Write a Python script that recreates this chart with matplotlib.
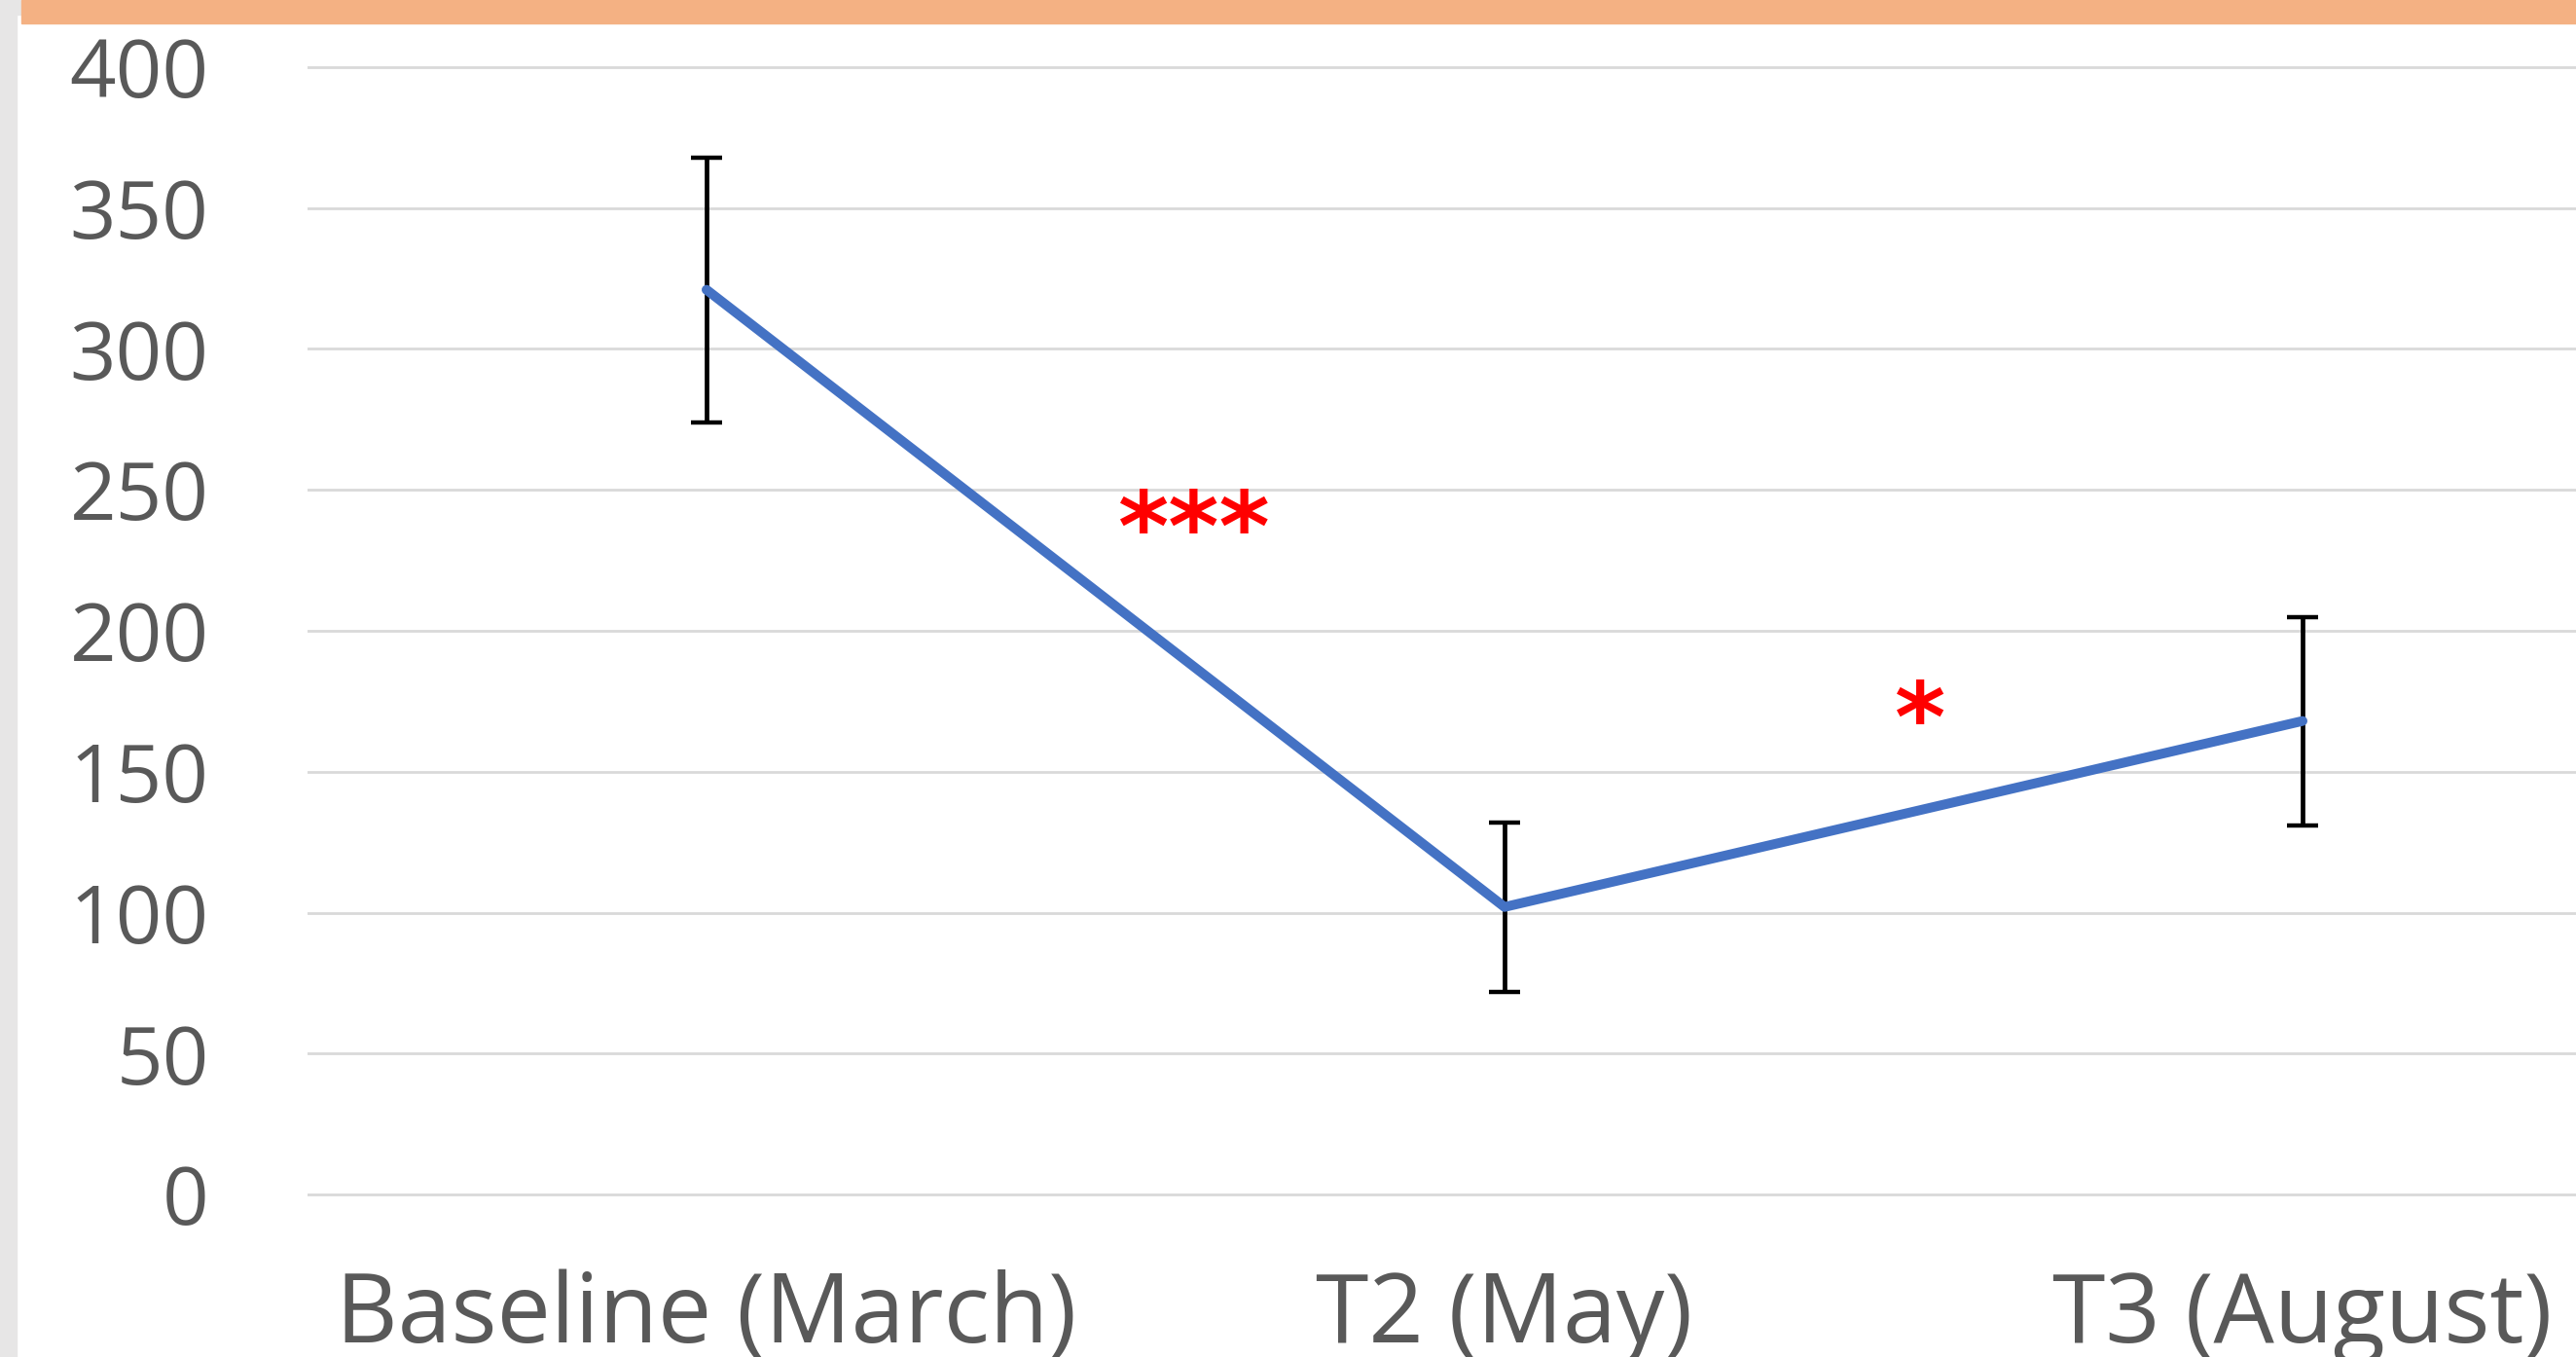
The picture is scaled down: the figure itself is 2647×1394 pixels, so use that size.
import numpy as np
import matplotlib.pyplot as plt
from matplotlib.patches import Rectangle

# values
categories = ['Baseline (March)', 'T2 (May)', 'T3 (August)']
means = [321, 102, 168]
errors = [47, 30, 37]
yticks = [0, 50, 100, 150, 200, 250, 300, 350, 400]
sig_labels = ['***', '*']
sig_x = [0.61, 1.52]
sig_y = [225, 157]

plt.rcParams['font.family'] = ['Open Sans', 'DejaVu Sans']

fig = plt.figure(figsize=(26.47, 13.94), dpi=100)
fig.patch.set_facecolor('white')

# page decoration: grey strip on the left, orange header bar
fig.patches.append(Rectangle((0, 0), 17 / 2647, 1, transform=fig.transFigure,
                             color='#e7e6e6', zorder=0))
fig.patches.append(Rectangle((17 / 2647, 1 - 15 / 1394), 5 / 2647, 15 / 1394,
                             transform=fig.transFigure, color='#e7e6e6', zorder=0))
fig.patches.append(Rectangle((22 / 2647, 1 - 24 / 1394), 1, 24 / 1394,
                             transform=fig.transFigure, color='#f4b183', zorder=0))

ax = fig.add_axes([316 / 2647, 0.1094, 2460 / 2647, 0.8515])
x = np.arange(len(categories))

ax.errorbar(x, means, yerr=errors, fmt='none', ecolor='black', elinewidth=3.4,
            capsize=11.5, capthick=3.2, zorder=3)
ax.plot(x, means, color='#4472c4', lw=7.2, solid_capstyle='round', zorder=4)

for lab, sx, sy in zip(sig_labels, sig_x, sig_y):
    ax.text(sx, sy, lab, color='red', fontsize=72, fontweight='bold',
            ha='center', va='baseline', family='DejaVu Sans')

ax.set_xlim(-0.5, 2.5)
ax.set_ylim(-5, 405)
ax.set_xticks(x)
ax.set_xticklabels(categories)
ax.set_yticks(yticks)

ax.yaxis.grid(True, color='#d9d9d9', lw=2)
ax.set_axisbelow(True)
for s in ax.spines.values():
    s.set_visible(False)

ax.tick_params(axis='y', length=0, pad=73, labelsize=60, labelcolor='#595959')
ax.tick_params(axis='x', length=0, pad=45, labelsize=71, labelcolor='#595959')

fig.savefig('out.png', dpi=100)
